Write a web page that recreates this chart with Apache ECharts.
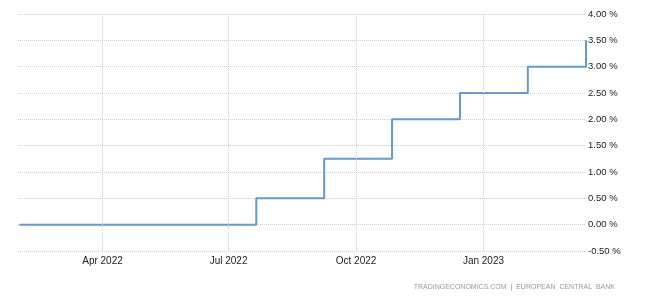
<!DOCTYPE html>
<html>
<head>
<meta charset="utf-8">
<script src="https://cdn.jsdelivr.net/npm/echarts@6/dist/echarts.min.js"></script>
<style>html,body{margin:0;padding:0;background:#fff}#c{width:665px;height:299px}</style>
</head>
<body>
<div id="c"></div>
<script>
const dates = ['2022-01-31','2022-07-21','2022-09-08','2022-10-27','2022-12-15','2023-02-02','2023-03-16'];
const rates = [0, 0.5, 1.25, 2.0, 2.5, 3.0, 3.5];
const xTicks = ['2022-04-01','2022-07-01','2022-10-01','2023-01-01'];
const xTickLabels = ['Apr 2022','Jul 2022','Oct 2022','Jan 2023'];
const xMin = '2022-01-30', xMax = '2023-03-16';
const ts = s => { const p = s.split('-').map(Number); return Date.UTC(p[0], p[1]-1, p[2]); };
const gridColor = '#d0d0d0';

const chart = echarts.init(document.getElementById('c'), null, {renderer:'canvas'});
chart.setOption({
  animation: false,
  grid: {left: 18, right: 79, top: 14, bottom: 48, containLabel: false},
  xAxis: {
    type: 'value', min: ts(xMin), max: ts(xMax),
    axisLine: {show: false}, axisTick: {show: false}, axisLabel: {show: false},
    splitLine: {show: false}
  },
  yAxis: {
    type: 'value', position: 'right', min: -0.5, max: 4, interval: 0.5,
    axisLine: {show: false}, axisTick: {show: false},
    splitLine: {show: true, lineStyle: {color: gridColor, type: [1, 1], width: 1}},
    axisLabel: {margin: 2, color: '#222', fontFamily: 'Liberation Sans, Arial, sans-serif', fontSize: 9.5,
      formatter: v => v.toFixed(2) + ' %'}
  },
  series: [{
    type: 'line', data: [], silent: true,
    markLine: {
      silent: true, symbol: ['none', 'none'], animation: false,
      lineStyle: {color: gridColor, type: [1, 1], width: 1},
      label: {position: 'start', distance: 5, color: '#222', fontFamily: 'Liberation Sans, Arial, sans-serif', fontSize: 10,
        formatter: p => xTickLabels[xTicks.map(ts).indexOf(p.value)]},
      emphasis: {disabled: true},
      data: xTicks.map(d => ({xAxis: ts(d)}))
    }
  }, {
    type: 'line', step: 'end', showSymbol: false,
    data: dates.map((d, i) => [ts(d), rates[i]]),
    lineStyle: {color: '#6699cc', width: 2},
    itemStyle: {color: '#6699cc'}
  }],
  graphic: [{
    type: 'text', right: 50, top: 284,
    style: {text: 'TRADINGECONOMICS.COM  |  EUROPEAN  CENTRAL  BANK', fill: '#9a9a9a',
      font: '7px "Liberation Sans", Arial, sans-serif'}
  }]
});
</script>
</body>
</html>
